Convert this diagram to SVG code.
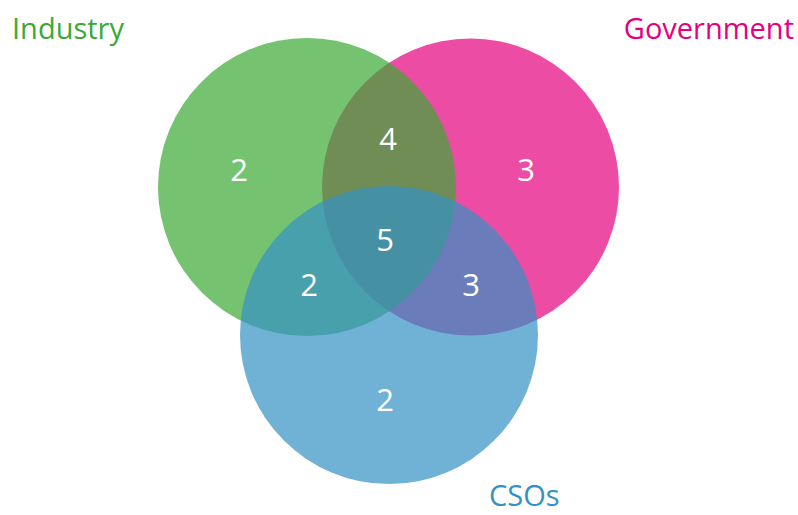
<svg xmlns="http://www.w3.org/2000/svg" width="798" height="515" viewBox="0 0 798 515">
<style>
.c{opacity:0.7}
.n{font-family:"Open Sans","DejaVu Sans",sans-serif;font-size:31px;fill:#ffffff;text-anchor:middle}
.l{font-family:"Open Sans","DejaVu Sans",sans-serif;font-size:29px}
</style>
<rect width="798" height="515" fill="#ffffff"/>
<g id="government"><circle class="c" cx="470.5" cy="187" r="148.5" fill="#E6007E"/></g>
<g id="industry"><circle class="c" cx="307" cy="187" r="149" fill="#3BAA35"/></g>
<g id="csos"><circle class="c" cx="389" cy="335" r="149" fill="#3391C4"/></g>
<g id="labels">
<text class="l" x="12" y="39" fill="#3BAA35">Industry</text>
<text class="l" x="794" y="39" fill="#E6007E" text-anchor="end">Government</text>
<text class="l" x="489" y="506" fill="#3391C4">CSOs</text>
</g>
<g id="counts">
<text class="n" x="239" y="181">2</text>
<text class="n" x="388" y="150">4</text>
<text class="n" x="526" y="181">3</text>
<text class="n" x="385" y="251">5</text>
<text class="n" x="309" y="296">2</text>
<text class="n" x="471" y="296">3</text>
<text class="n" x="385" y="411">2</text>
</g>
</svg>
